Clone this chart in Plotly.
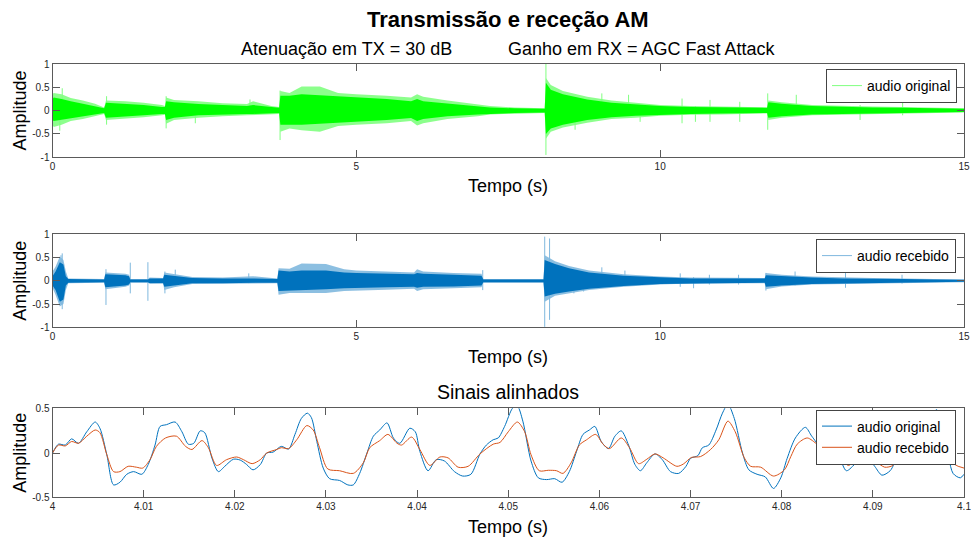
import plotly.graph_objects as go

# ---------------- data ----------------
# Envelope knots of "audio original" (top panel), seconds
orig_t = [0, 0.02, 0.15, 0.3, 0.5, 0.7, 0.85, 0.88, 1.2, 1.5, 1.8, 1.85, 1.87, 2.0, 2.4, 2.8, 3.2, 3.3,
          3.6, 3.73, 3.75, 3.9, 4.1, 4.4, 4.7, 5.0, 5.5, 5.9, 6.0, 6.1, 6.5, 7.0, 7.2, 7.6, 8.1, 8.12,
          8.2, 8.4, 8.8, 9.2, 9.6, 10.0, 10.5, 11.0, 11.5, 11.76, 11.78, 12.0, 12.5, 13.0, 13.5, 14.0,
          14.5, 15.0]
orig_core_hi = [0.25, 0.28, 0.25, 0.2, 0.15, 0.1, 0.05, 0.17, 0.15, 0.12, 0.08, 0.08, 0.2, 0.18, 0.14, 0.12,
                0.1, 0.12, 0.07, 0.06, 0.32, 0.32, 0.35, 0.33, 0.3, 0.28, 0.25, 0.2, 0.25, 0.2, 0.15, 0.1,
                0.07, 0.05, 0.04, 0.6, 0.45, 0.35, 0.24, 0.17, 0.13, 0.1, 0.08, 0.07, 0.06, 0.06, 0.18,
                0.15, 0.1, 0.08, 0.07, 0.06, 0.05, 0.04]
orig_core_lo = [-0.2, -0.22, -0.2, -0.16, -0.12, -0.08, -0.05, -0.15, -0.12, -0.1, -0.07, -0.07, -0.2, -0.15,
                -0.1, -0.08, -0.07, -0.07, -0.06, -0.05, -0.3, -0.3, -0.3, -0.28, -0.25, -0.24, -0.2, -0.16,
                -0.22, -0.18, -0.12, -0.08, -0.06, -0.05, -0.04, -0.5, -0.38, -0.3, -0.2, -0.14, -0.11,
                -0.09, -0.07, -0.06, -0.05, -0.05, -0.15, -0.12, -0.08, -0.07, -0.06, -0.05, -0.04, -0.03]
orig_out_hi = [0.35, 0.38, 0.35, 0.27, 0.22, 0.15, 0.07, 0.22, 0.2, 0.17, 0.12, 0.1, 0.28, 0.23, 0.2, 0.16,
               0.14, 0.2, 0.1, 0.08, 0.42, 0.38, 0.52, 0.52, 0.38, 0.35, 0.32, 0.28, 0.35, 0.3, 0.22, 0.14,
               0.1, 0.07, 0.05, 0.7, 0.55, 0.42, 0.3, 0.22, 0.17, 0.12, 0.1, 0.09, 0.08, 0.07, 0.22, 0.18,
               0.12, 0.1, 0.09, 0.08, 0.06, 0.05]
orig_out_lo = [-0.3, -0.35, -0.3, -0.22, -0.18, -0.12, -0.07, -0.2, -0.17, -0.14, -0.1, -0.09, -0.28, -0.2,
               -0.15, -0.12, -0.1, -0.1, -0.08, -0.07, -0.45, -0.38, -0.42, -0.45, -0.33, -0.3, -0.27, -0.22,
               -0.32, -0.27, -0.18, -0.12, -0.08, -0.06, -0.05, -0.6, -0.45, -0.36, -0.26, -0.18, -0.15,
               -0.11, -0.09, -0.08, -0.07, -0.06, -0.2, -0.15, -0.1, -0.09, -0.08, -0.07, -0.05, -0.04]
orig_spike_t = [0.12, 0.16, 0.89, 1.87, 2.35, 3.25, 3.745, 8.12, 8.6, 9.04, 9.48, 9.67, 10.36, 10.58, 10.82,
                11.31, 11.77, 12.24, 13.29, 13.99]
orig_spike_hi = [0.1, 0.48, 0.31, 0.31, 0.1, 0.24, 0.43, 1.0, 0.1, 0.37, 0.34, 0.1, 0.26, 0.1, 0.23, 0.19,
                 0.37, 0.34, 0.12, 0.17]
orig_spike_lo = [-0.43, -0.1, -0.3, -0.38, -0.27, -0.05, -0.63, -0.95, -0.41, -0.1, -0.1, -0.24, -0.27, -0.24,
                 -0.24, -0.24, -0.41, -0.1, -0.2, -0.1]

# Envelope knots of "audio recebido" (middle panel)
recv_t = [0, 0.05, 0.12, 0.18, 0.22, 0.26, 0.85, 0.87, 1.2, 1.26, 1.28, 1.57, 1.6, 1.82, 1.84, 2.0, 2.3, 2.8,
          3.2, 3.3, 3.7, 3.72, 3.9, 4.1, 4.5, 4.8, 5.0, 5.5, 5.95, 6.0, 6.1, 6.6, 7.06, 7.09, 8.08, 8.1,
          8.27, 8.5, 8.83, 9.4, 10.0, 10.5, 11.0, 11.72, 11.74, 12.0, 12.5, 13.0, 13.5, 14.0, 14.5, 15.0]
recv_core_hi = [0.1, 0.2, 0.4, 0.35, 0.1, 0.04, 0.03, 0.14, 0.12, 0.1, 0.03, 0.03, 0.05, 0.05, 0.13, 0.1,
                0.06, 0.05, 0.06, 0.05, 0.04, 0.22, 0.2, 0.22, 0.22, 0.18, 0.17, 0.15, 0.14, 0.17, 0.15, 0.13,
                0.11, 0.03, 0.03, 0.45, 0.36, 0.27, 0.18, 0.11, 0.07, 0.05, 0.05, 0.05, 0.12, 0.1, 0.07,
                0.05, 0.05, 0.04, 0.03, 0.02]
recv_core_lo = [-0.1, -0.2, -0.45, -0.4, -0.1, -0.04, -0.03, -0.14, -0.1, -0.08, -0.03, -0.03, -0.05, -0.05,
                -0.13, -0.1, -0.05, -0.05, -0.05, -0.05, -0.04, -0.22, -0.2, -0.2, -0.18, -0.16, -0.15, -0.14,
                -0.13, -0.15, -0.13, -0.12, -0.1, -0.03, -0.03, -0.34, -0.28, -0.23, -0.17, -0.11, -0.07,
                -0.05, -0.05, -0.04, -0.13, -0.1, -0.07, -0.05, -0.04, -0.04, -0.03, -0.02]
recv_out_hi = [0.2, 0.3, 0.52, 0.45, 0.2, 0.05, 0.04, 0.18, 0.15, 0.13, 0.04, 0.04, 0.07, 0.06, 0.18, 0.14,
               0.08, 0.07, 0.1, 0.1, 0.05, 0.27, 0.26, 0.37, 0.36, 0.25, 0.22, 0.2, 0.18, 0.25, 0.2, 0.17,
               0.15, 0.04, 0.04, 0.55, 0.42, 0.32, 0.22, 0.14, 0.09, 0.07, 0.06, 0.06, 0.17, 0.13, 0.09,
               0.07, 0.06, 0.05, 0.04, 0.03]
recv_out_lo = [-0.15, -0.3, -0.55, -0.5, -0.2, -0.05, -0.04, -0.18, -0.13, -0.1, -0.04, -0.04, -0.06, -0.05,
               -0.2, -0.14, -0.07, -0.06, -0.06, -0.06, -0.05, -0.3, -0.26, -0.27, -0.26, -0.22, -0.2, -0.19,
               -0.17, -0.22, -0.18, -0.16, -0.14, -0.04, -0.04, -0.45, -0.32, -0.27, -0.2, -0.13, -0.08,
               -0.06, -0.05, -0.05, -0.18, -0.12, -0.08, -0.06, -0.05, -0.05, -0.04, -0.03]
recv_spike_t = [0.14, 0.16, 0.88, 1.28, 1.57, 1.85, 2.02, 3.23, 7.08, 8.1, 8.18, 8.58, 8.74, 9.04, 9.42,
                10.33, 10.55, 10.81, 11.29, 11.74, 12.22, 13.05, 13.98]
recv_spike_hi = [0.55, 0.59, 0.25, 0.39, 0.4, 0.2, 0.24, 0.16, 0.23, 0.95, 0.91, 0.1, 0.1, 0.29, 0.22, 0.16,
                 0.08, 0.13, 0.13, 0.17, 0.2, 0.22, 0.13]
recv_spike_lo = [-0.5, -0.61, -0.52, -0.27, -0.43, -0.27, -0.1, -0.05, -0.2, -0.99, -0.84, -0.27, -0.23, -0.1,
                 -0.1, -0.13, -0.16, -0.08, -0.08, -0.21, -0.1, -0.15, -0.06]

# Aligned signals (bottom panel): time offsets in ms after 4 s
al_orig_ms = [0, 0.66, 1.4, 2.1, 2.85, 3.76, 4.68, 5.2, 5.96, 6.7, 7.4, 8.15, 8.9, 9.8, 10.5, 11.25, 11.8,
              12.5, 13.45, 14.2, 14.9, 15.5, 16.2, 16.7, 17.5, 18.2, 18.9, 19.85, 20.6, 21.3, 22.0, 22.8,
              23.5, 24.2, 25.1, 25.9, 26.6, 27.3, 27.96, 28.4, 29.0, 29.7, 30.4, 31.5, 32.4, 33.0, 33.7,
              34.5, 35.2, 35.9, 36.7, 37.4, 38.1, 39.2, 39.8, 40.3, 41.2, 42.1, 43.0, 44.1, 45.0, 45.9,
              46.9, 47.6, 48.35, 48.9, 49.6, 50.5, 51.0, 51.6, 52.5, 53.3, 54.2, 55.1, 55.9, 56.7, 57.5,
              58.2, 58.9, 59.5, 60.2, 61.0, 61.7, 62.4, 63.2, 63.9, 64.5, 65.2, 66.1, 66.9, 67.8, 68.7,
              69.5, 70.0, 70.8, 71.3, 72.0, 72.8, 73.5, 74.1, 74.8, 75.7, 76.4, 77.3, 78.2, 79.1, 79.9,
              80.6, 81.5, 82.6, 83.3, 84.3, 85.2, 86.3, 87.1, 88.2, 89.3, 90.2, 91.0, 91.9, 92.8, 93.6,
              94.5, 95.6, 96.4, 97.0, 97.9, 98.8, 99.6, 100]
al_orig = [0, 0.10, 0.09, 0.16, 0.11, 0.24, 0.35, 0.28, -0.02, -0.36, -0.33, -0.24, -0.21, -0.24, -0.13, 0.09,
           0.30, 0.32, 0.35, 0.24, 0.10, 0.11, 0.25, 0.23, -0.06, -0.21, -0.15, -0.07, -0.08, -0.13, -0.19,
           -0.13, 0.0, 0.01, 0.075, 0.045, 0.21, 0.39, 0.45, 0.40, 0.13, -0.17, -0.29, -0.31, -0.36, -0.36,
           -0.23, 0.0, 0.19, 0.26, 0.34, 0.17, 0.11, 0.28, 0.24, 0.02, -0.2, -0.075, -0.09, -0.21, -0.26,
           -0.24, -0.01, 0.09, 0.15, 0.17, 0.30, 0.51, 0.53, 0.36, -0.09, -0.28, -0.30, -0.29, -0.33, -0.21,
           0.02, 0.21, 0.26, 0.30, 0.13, 0.05, 0.19, 0.25, 0.09, -0.13, -0.20, -0.11, -0.01, -0.075, -0.21,
           -0.23, -0.15, -0.06, -0.03, 0.06, 0.09, 0.26, 0.45, 0.55, 0.39, 0.0, -0.19, -0.24, -0.27, -0.40,
           -0.28, -0.06, 0.17, 0.29, 0.19, 0.075, 0.13, -0.04, -0.2, -0.11, -0.04, -0.15, -0.25, -0.2, -0.04,
           -0.01, 0.06, 0.22, 0.40, 0.49, 0.2, -0.23, -0.28, -0.24]
al_recv_ms = [0, 0.66, 1.4, 2.1, 2.85, 3.76, 4.68, 5.2, 5.96, 6.7, 7.4, 8.3, 9.2, 9.9, 10.7, 11.4, 12.4, 13.6,
              14.6, 15.3, 16.4, 17.1, 18.0, 19.1, 20.2, 20.95, 21.9, 22.8, 23.5, 24.6, 25.1, 25.9, 26.8,
              27.9, 28.6, 29.3, 30.2, 31.5, 33.0, 34.1, 34.8, 35.9, 36.8, 37.8, 38.3, 39.4, 40.3, 41.4,
              42.5, 43.4, 44.5, 45.6, 46.9, 48.35, 49.1, 50.0, 51.0, 51.8, 52.5, 53.4, 54.4, 55.3, 56.0,
              56.9, 57.8, 58.6, 59.6, 60.4, 61.1, 62.4, 63.3, 64.3, 65.2, 66.1, 67.0, 68.5, 69.2, 70.1,
              71.1, 72.2, 73.1, 74.1, 74.9, 75.9, 76.6, 77.7, 79.1, 80.3, 81.0, 81.7, 82.8, 83.9, 84.6,
              85.5, 86.4, 87.3, 88.4, 89.3, 90.2, 91.3, 92.2, 92.9, 93.6, 94.6, 95.6, 96.6, 97.2, 98.3,
              99.0, 100]
al_recv = [0, 0.09, 0.08, 0.13, 0.11, 0.19, 0.26, 0.23, -0.02, -0.21, -0.21, -0.15, -0.16, -0.17, -0.075,
           0.075, 0.17, 0.19, 0.075, 0.04, 0.14, 0.06, -0.14, -0.075, -0.045, -0.075, -0.12, -0.075, 0.0,
           0.04, 0.06, 0.05, 0.15, 0.31, 0.26, 0.06, -0.18, -0.2, -0.23, -0.11, 0.06, 0.14, 0.21, 0.11,
           0.09, 0.18, 0.04, -0.14, -0.045, -0.055, -0.16, -0.15, -0.01, 0.10, 0.12, 0.24, 0.35, 0.24,
           -0.02, -0.20, -0.195, -0.20, -0.23, -0.11, 0.09, 0.15, 0.21, 0.10, 0.05, 0.17, 0.06, -0.12,
           -0.07, -0.01, -0.055, -0.15, -0.125, -0.05, -0.04, 0.04, 0.15, 0.36, 0.24, -0.055, -0.15, -0.16,
           -0.26, -0.19, -0.04, 0.10, 0.17, 0.10, 0.06, 0.08, -0.03, -0.14, -0.055, -0.03, -0.085, -0.16,
           -0.14, -0.04, -0.01, 0.04, 0.15, 0.3, 0.32, 0.0, -0.13, -0.17]

# Tick labels
full_ticks = [0, 5, 10, 15]
amp_ticks = [-1, -0.5, 0, 0.5, 1]
amp_ticktext = ["-1", "-0.5", "0", "0.5", "1"]
zoom_ticks = [4.0, 4.01, 4.02, 4.03, 4.04, 4.05, 4.06, 4.07, 4.08, 4.09, 4.1]
zoom_ticktext = ["4", "4.01", "4.02", "4.03", "4.04", "4.05", "4.06", "4.07", "4.08", "4.09", "4.1"]
zoom_yticks = [-0.5, 0, 0.5]
zoom_yticktext = ["-0.5", "0", "0.5"]

# ---------------- styling ----------------
GREEN = "#00FF00"
GREEN_L = "rgba(0,255,0,0.45)"
GREEN_LEG = "#80FF80"
BLUE = "#0072BD"
BLUE_L = "rgba(0,114,189,0.45)"
BLUE_LEG = "#7FB8DE"
ORANGE = "#D95319"
FONT = "Liberation Sans, Arial, sans-serif"
AX = "#5a5a5a"

fig = go.Figure()


def band(t, hi, lo, color, xa, ya):
    return go.Scatter(x=list(t) + list(t)[::-1], y=list(hi) + list(lo)[::-1], fill="toself",
                      fillcolor=color, line=dict(width=0), mode="lines", hoverinfo="skip",
                      showlegend=False, xaxis=xa, yaxis=ya)


def spikes(t, hi, lo, color, name, legend, xa, ya):
    xs, ys = [], []
    for ti, h, l in zip(t, hi, lo):
        xs += [ti, ti, None]
        ys += [l, h, None]
    return go.Scatter(x=xs, y=ys, mode="lines", line=dict(color=color, width=1), name=name,
                      legend=legend, xaxis=xa, yaxis=ya)


# top panel
fig.add_trace(band(orig_t, orig_out_hi, orig_out_lo, GREEN_L, "x", "y"))
fig.add_trace(spikes(orig_spike_t, orig_spike_hi, orig_spike_lo, GREEN_LEG, "audio original", "legend", "x", "y"))
fig.add_trace(band(orig_t, orig_core_hi, orig_core_lo, GREEN, "x", "y"))
# middle panel
fig.add_trace(band(recv_t, recv_out_hi, recv_out_lo, BLUE_L, "x2", "y2"))
fig.add_trace(spikes(recv_spike_t, recv_spike_hi, recv_spike_lo, BLUE_LEG, "audio recebido", "legend2", "x2", "y2"))
fig.add_trace(band(recv_t, recv_core_hi, recv_core_lo, BLUE, "x2", "y2"))
# bottom panel
fig.add_trace(go.Scatter(x=[4 + m / 1000 for m in al_orig_ms], y=al_orig, mode="lines",
                         line=dict(color=BLUE, width=1, shape="spline", smoothing=0.8),
                         name="audio original", legend="legend3", xaxis="x3", yaxis="y3"))
fig.add_trace(go.Scatter(x=[4 + m / 1000 for m in al_recv_ms], y=al_recv, mode="lines",
                         line=dict(color=ORANGE, width=1, shape="spline", smoothing=0.8),
                         name="audio recebido", legend="legend3", xaxis="x3", yaxis="y3"))

W, H = 971, 539
xdom = [52.5 / W, 964 / W]


def ydom(top, bot):
    return [1 - bot / H, 1 - top / H]


axis_common = dict(showline=True, linecolor=AX, linewidth=1, mirror="ticks", ticks="inside",
                   ticklen=7, tickcolor=AX, showgrid=False, zeroline=False, automargin=False,
                   ticklabeloverflow="allow",
                   tickfont=dict(family=FONT, size=10, color="#262626"))

fig.update_layout(
    width=W, height=H, margin=dict(l=0, r=0, t=0, b=0, autoexpand=False),
    paper_bgcolor="white", plot_bgcolor="white",
    font=dict(family=FONT, color="#000000"),
    xaxis=dict(domain=xdom, anchor="y", range=[0, 15], tickvals=full_ticks, **axis_common),
    yaxis=dict(domain=ydom(64, 157.3), anchor="x", range=[-1, 1], tickvals=amp_ticks,
               ticktext=amp_ticktext, **axis_common),
    xaxis2=dict(domain=xdom, anchor="y2", range=[0, 15], tickvals=full_ticks, **axis_common),
    yaxis2=dict(domain=ydom(234.3, 327.3), anchor="x2", range=[-1, 1], tickvals=amp_ticks,
                ticktext=amp_ticktext, **axis_common),
    xaxis3=dict(domain=xdom, anchor="y3", range=[4, 4.1000001], tickvals=zoom_ticks, ticktext=zoom_ticktext,
                **axis_common),
    yaxis3=dict(domain=ydom(408.3, 497.3), anchor="x3", range=[-0.5, 0.505], tickvals=zoom_yticks,
                ticktext=zoom_yticktext, **axis_common),
    showlegend=True,
)

leg_common = dict(bgcolor="white", bordercolor="#444444", borderwidth=1, xanchor="right", yanchor="top",
                  font=dict(family=FONT, size=14, color="#000000"), itemwidth=30, tracegroupgap=0)
fig.update_layout(
    legend=dict(x=957 / W, y=1 - 69 / H, **leg_common),
    legend2=dict(x=956 / W, y=1 - 239 / H, **leg_common),
    legend3=dict(x=956 / W, y=1 - 409.5 / H, **leg_common),
)

ann = []


def text(x, y, s, size, bold=False, angle=0):
    ann.append(dict(x=x / W, y=1 - y / H, xref="paper", yref="paper", text=("<b>%s</b>" % s) if bold else s,
                    showarrow=False, font=dict(family=FONT, size=size, color="#000000"), textangle=angle,
                    xanchor="center", yanchor="middle"))


text(508, 20, "Transmissão e receção AM", 22, bold=True)
text(346.5, 49, "Atenuação em TX = 30 dB", 18)
text(642, 49, "Ganho em RX = AGC Fast Attack", 18)
text(508, 392, "Sinais alinhados", 19.5)
for yc in (186, 357, 527):
    text(508, yc, "Tempo (s)", 18)
for yc in (110.6, 280.8, 452.8):
    text(20, yc, "Amplitude", 18, angle=-90)
fig.update_layout(annotations=ann)

fig.write_html("out.html", config={"displayModeBar": False},
               post_script="document.body.style.margin='0';document.body.style.padding='0';"
                           "document.body.style.overflow='hidden';")
